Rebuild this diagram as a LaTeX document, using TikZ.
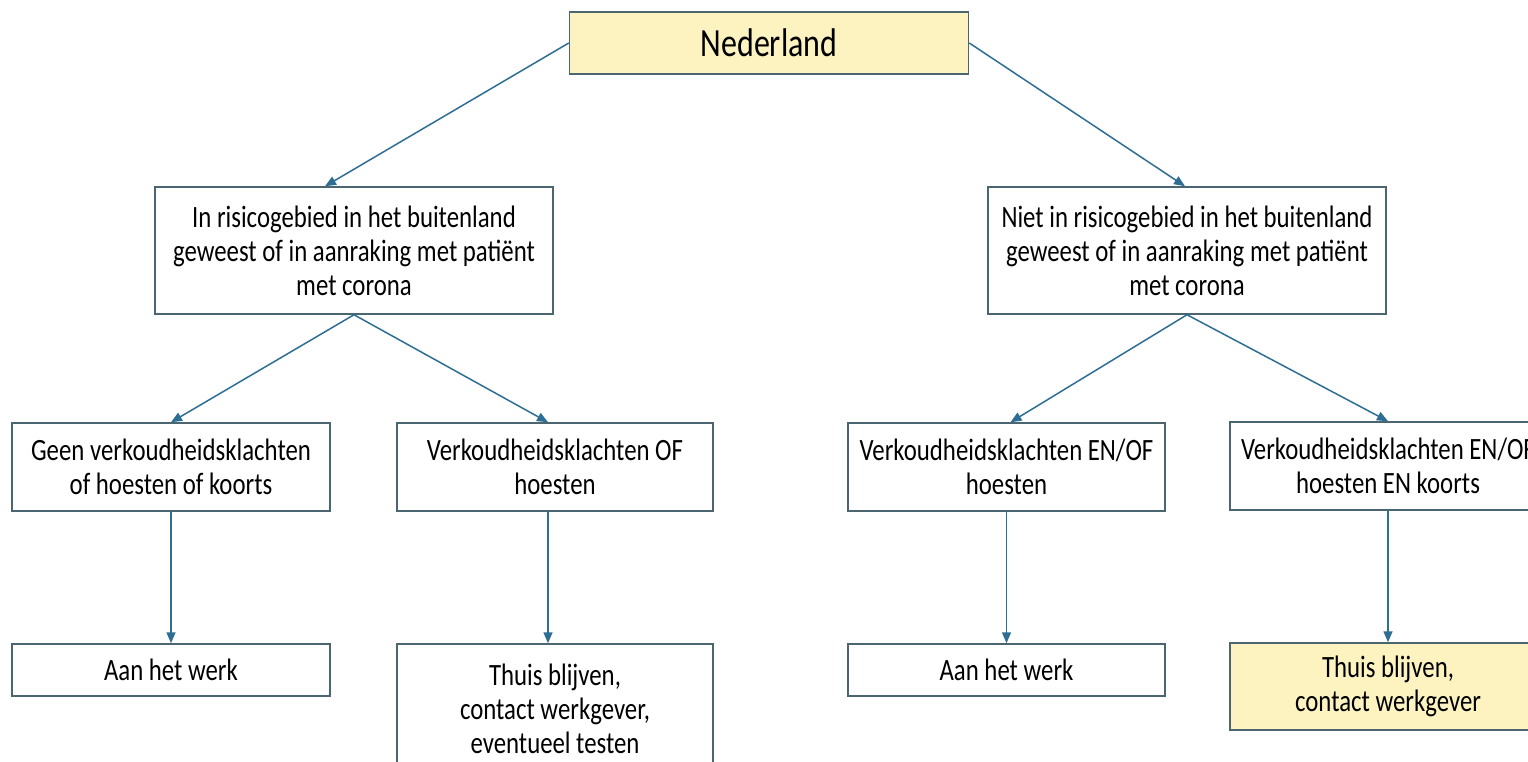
\documentclass[tikz,border=0pt]{standalone}
\usepackage{fontspec}
\setmainfont{Carlito}[FakeStretch=0.8]
\usetikzlibrary{arrows.meta}
\definecolor{boxline}{HTML}{4B6670}
\definecolor{arrowc}{HTML}{2E6E93}
\definecolor{pale}{HTML}{FCF3C0}
\tikzset{
  box/.style={draw=boxline, line width=1.5pt, fill=white, align=center, inner sep=0pt,
    font=\fontsize{31}{34}\selectfont},
  hl/.style={fill=pale},
  arr/.style={draw=arrowc, line width=1.5pt, -{Triangle[length=11pt,width=9pt]}}
}
\begin{document}
\begin{tikzpicture}[x=1pt,y=-1pt]
\useasboundingbox (0,0) rectangle (1528,762);
\clip (0,0) rectangle (1528,762);
\fill[white] (0,0) rectangle (1528,762);
\node[box,hl,minimum width=399pt,minimum height=62pt,font=\fontsize{40}{44}\selectfont] (ned) at (769,43) {Nederland};
\node[box,minimum width=398pt,minimum height=127pt] (lm) at (354,250.5) {In risicogebied in het buitenland\\geweest of in aanraking met patiënt\\met corona};
\node[box,minimum width=398pt,minimum height=127pt] (rm) at (1187,250.5) {Niet in risicogebied in het buitenland\\geweest of in aanraking met patiënt\\met corona};
\node[box,minimum width=318pt,minimum height=88pt] (l1) at (171,467) {Geen verkoudheidsklachten\\of hoesten of koorts};
\node[box,minimum width=316pt,minimum height=88pt] (l2) at (555,467) {Verkoudheidsklachten OF\\hoesten};
\node[box,minimum width=317pt,minimum height=88pt] (r1) at (1006.5,467) {Verkoudheidsklachten EN/OF\\hoesten};
\node[box,minimum width=316pt,minimum height=88pt] (r2) at (1388,466) {Verkoudheidsklachten EN/OF\\hoesten EN koorts};
\node[box,minimum width=318pt,minimum height=52pt] (l1b) at (171,670) {Aan het werk};
\node[box,minimum width=316pt,minimum height=130pt] (l2b) at (555,709) {\rule{0pt}{8pt}Thuis blijven,\\contact werkgever,\\eventueel testen};
\node[box,minimum width=317pt,minimum height=52pt] (r1b) at (1006.5,670) {Aan het werk};
\node[box,hl,minimum width=316pt,minimum height=87pt] (r2b) at (1388,686.5) {Thuis blijven,\\contact werkgever};
\draw[arr] (ned.west) -- ([xshift=-29pt]lm.north);
\draw[arr] (ned.east) -- ([xshift=-2pt]rm.north);
\draw[arr] (lm.south) -- (l1.north);
\draw[arr] (lm.south) -- ([xshift=-7pt]l2.north);
\draw[arr] (rm.south) -- ([xshift=4pt]r1.north);
\draw[arr] (rm.south) -- (r2.north);
\draw[arr] (l1.south) -- (l1b.north);
\draw[arr] ([xshift=-7pt]l2.south) -- ([xshift=-7pt]l2b.north);
\draw[arr] (r1.south) -- (r1b.north);
\draw[arr] (r2.south) -- (r2b.north);
\end{tikzpicture}
\end{document}
